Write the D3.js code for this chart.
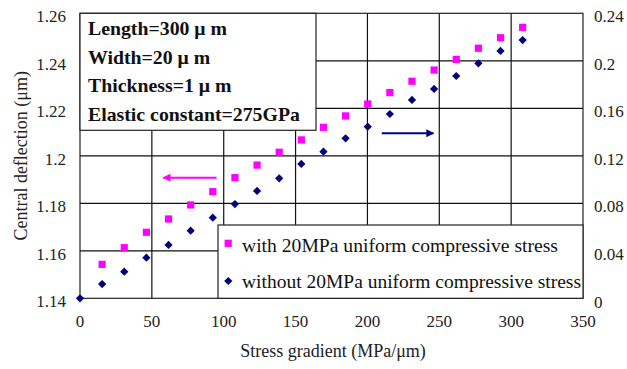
<!DOCTYPE html>
<html>
<head>
<meta charset="utf-8">
<script src="https://cdn.jsdelivr.net/npm/d3@7.9.0/dist/d3.min.js"></script>
<style>
  body { margin: 0; background: #fff; }
  svg { display: block; }
  svg text { font-family: "Liberation Serif", "DejaVu Serif", serif; }
</style>
</head>
<body>
<svg width="627" height="369"></svg>
<script>
// stress gradient (MPa/um)
const gradient = [0, 15.4, 30.8, 46.2, 61.6, 77, 92.4, 107.8, 123.2, 138.6, 154,
  169.4, 184.8, 200.2, 215.6, 231, 246.4, 261.8, 277.2, 292.6, 308];
// central deflection with stress (left axis), no point at 0
const withStress = [null, 1.1543, 1.1613, 1.1678, 1.1734, 1.1793, 1.1849, 1.1908, 1.1961,
  1.2015, 1.2067, 1.212, 1.2168, 1.2218, 1.2266, 1.2314, 1.2361, 1.2406, 1.2453, 1.2497, 1.2541];
// without stress (right axis)
const withoutStress = [0, 0.012, 0.0224, 0.0342, 0.0449, 0.0569, 0.0679, 0.0794, 0.0904,
  0.101, 0.1131, 0.1235, 0.1347, 0.1445, 0.1552, 0.167, 0.1763, 0.1872, 0.1979, 0.2083, 0.2175];

const xTicks = [0, 50, 100, 150, 200, 250, 300, 350];
const leftTicks = [1.14, 1.16, 1.18, 1.2, 1.22, 1.24, 1.26];
const rightTicks = [0, 0.04, 0.08, 0.12, 0.16, 0.2, 0.24];
const params = ['Length=300 \u03bc m', 'Width=20 \u03bc m', 'Thickness=1 \u03bc m', 'Elastic constant=275GPa'];
const legendLabels = ['with 20MPa uniform compressive stress', 'without 20MPa uniform compressive stress'];

const serif = 'Liberation Serif, DejaVu Serif, serif';
const svg = d3.select('svg');
const pLeft = 80, pRight = 583, pTop = 13.3, pBottom = 298.3;

const x = d3.scaleLinear().domain([0, 350]).range([pLeft, pRight]);
const yL = d3.scaleLinear().domain([1.14, 1.26]).range([pBottom, pTop]);
const yR = d3.scaleLinear().domain([0, 0.24]).range([pBottom, pTop]);

// grid
const grid = svg.append('g').attr('stroke', '#111').attr('stroke-width', 1.2);
xTicks.slice(1, -1).forEach(t => {
  grid.append('line').attr('x1', x(t)).attr('x2', x(t)).attr('y1', pTop).attr('y2', pBottom);
});
leftTicks.slice(1, -1).forEach(t => {
  grid.append('line').attr('x1', pLeft).attr('x2', pRight).attr('y1', yL(t)).attr('y2', yL(t));
});
svg.append('rect')
  .attr('x', pLeft).attr('y', pTop).attr('width', pRight - pLeft).attr('height', pBottom - pTop)
  .attr('fill', 'none').attr('stroke', '#222').attr('stroke-width', 1.2);

// tick labels
svg.append('g').selectAll('text').data(leftTicks).join('text')
  .attr('x', 66).attr('y', d => yL(d) + 9)
  .attr('text-anchor', 'end').attr('font-size', 17).attr('font-family', serif).attr('fill', '#222')
  .text(d => d);
svg.append('g').selectAll('text').data(rightTicks).join('text')
  .attr('x', 594).attr('y', d => yR(d) + (d === 0 ? 10 : 9))
  .attr('font-size', 17).attr('font-family', serif).attr('fill', '#222')
  .text(d => d);
svg.append('g').selectAll('text').data(xTicks).join('text')
  .attr('x', d => x(d)).attr('y', 327)
  .attr('text-anchor', 'middle').attr('font-size', 17).attr('font-family', serif).attr('fill', '#222')
  .text(d => d);

// axis titles
svg.append('text')
  .attr('transform', `translate(27,${(pTop + pBottom) / 2}) rotate(-90)`)
  .attr('text-anchor', 'middle').attr('font-size', 18).attr('font-family', serif).attr('fill', '#222')
  .text('Central deflection (\u03bcm)');
svg.append('text')
  .attr('x', 333).attr('y', 357)
  .attr('text-anchor', 'middle').attr('font-size', 18).attr('font-family', serif).attr('fill', '#222')
  .text('Stress gradient (MPa/\u03bcm)');

// parameter box
svg.append('rect')
  .attr('x', pLeft).attr('y', pTop).attr('width', 236).attr('height', 117)
  .attr('fill', '#fff').attr('stroke', '#222').attr('stroke-width', 1.2);
svg.append('g').attr('transform', 'translate(88,0) scale(1.1,1)')
  .selectAll('text').data(params).join('text')
  .attr('x', 0).attr('y', (d, i) => 35.5 + i * 28.4)
  .attr('font-size', 18).attr('font-weight', 'bold').attr('font-family', serif).attr('fill', '#111')
  .text(d => d);

// arrows
svg.append('defs').selectAll('marker').data(['#ff00ff', '#000080']).join('marker')
  .attr('id', (d, i) => 'arr' + i)
  .attr('viewBox', '0 0 10 10').attr('refX', 9).attr('refY', 5)
  .attr('markerWidth', 5).attr('markerHeight', 4).attr('orient', 'auto')
  .append('path').attr('d', 'M0,0L10,5L0,10z').attr('fill', d => d);
svg.append('line')
  .attr('x1', x(95)).attr('x2', x(58)).attr('y1', yL(1.1908)).attr('y2', yL(1.1908))
  .attr('stroke', '#ff00ff').attr('stroke-width', 2).attr('marker-end', 'url(#arr0)');
svg.append('line')
  .attr('x1', x(210)).attr('x2', x(246)).attr('y1', yR(0.1390)).attr('y2', yR(0.1390))
  .attr('stroke', '#000080').attr('stroke-width', 2).attr('marker-end', 'url(#arr1)');

// points
const pts = gradient.map((g, i) => ({ g, w: withStress[i], wo: withoutStress[i] }));
svg.append('g').selectAll('rect').data(pts.filter(d => d.w != null)).join('rect')
  .attr('x', d => x(d.g) - 3.6).attr('y', d => yL(d.w) - 3.6)
  .attr('width', 7.2).attr('height', 7.2).attr('fill', '#ff00ff');
const diamond = d3.symbol().type(d3.symbolSquare).size(34);
svg.append('g').selectAll('path').data(pts).join('path')
  .attr('transform', d => `translate(${x(d.g)},${yR(d.wo)}) rotate(45)`)
  .attr('d', diamond).attr('fill', '#000080');

// legend
const lg = svg.append('g');
lg.append('rect')
  .attr('x', 218).attr('y', 225).attr('width', pRight - 218).attr('height', pBottom - 225)
  .attr('fill', '#fff').attr('stroke', '#222').attr('stroke-width', 1.2);
lg.append('rect').attr('x', 224.6).attr('y', 239.7).attr('width', 7.2).attr('height', 7.2).attr('fill', '#ff00ff');
lg.append('path').attr('transform', 'translate(228.3,281) rotate(45)').attr('d', diamond).attr('fill', '#000080');
lg.selectAll('text').data(legendLabels).join('text')
  .attr('x', 242).attr('y', (d, i) => 252 + i * 35.5)
  .attr('font-size', 19).attr('font-family', serif).attr('fill', '#111')
  .attr('textLength', (d, i) => i === 0 ? 316 : 339)
  .attr('lengthAdjust', 'spacingAndGlyphs')
  .text(d => d);
</script>
</body>
</html>
